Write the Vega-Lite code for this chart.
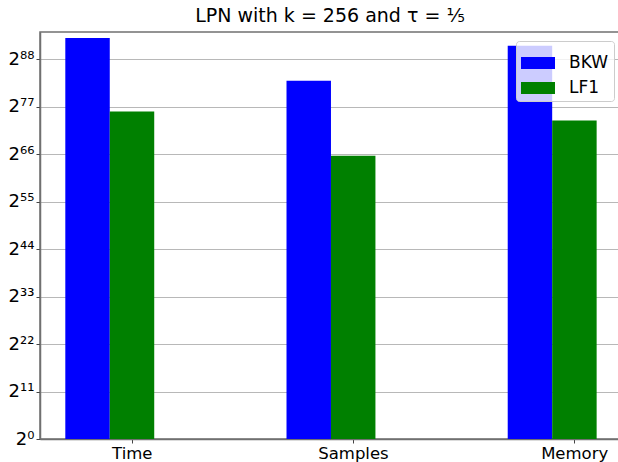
{
  "$schema": "https://vega.github.io/schema/vega-lite/v6.json",
  "autosize": "none",
  "width": 580,
  "height": 407,
  "padding": {"left": 40, "top": 32, "right": 0, "bottom": 23},
  "background": "white",
  "title": {
    "text": "LPN with k = 256 and τ = ⅕",
    "font": "DejaVu Sans",
    "fontSize": 19,
    "fontWeight": "normal",
    "color": "black",
    "offset": 6
  },
  "config": {
    "view": {"stroke": "#707070", "strokeWidth": 1.5},
    "font": "DejaVu Sans"
  },
  "data": {
    "values": [
      {"metric": "Time", "method": "BKW", "exp": 92.9},
      {"metric": "Time", "method": "LF1", "exp": 75.9},
      {"metric": "Samples", "method": "BKW", "exp": 83.0},
      {"metric": "Samples", "method": "LF1", "exp": 65.6},
      {"metric": "Memory", "method": "BKW", "exp": 91.1},
      {"metric": "Memory", "method": "LF1", "exp": 73.8}
    ]
  },
  "mark": {"type": "bar"},
  "encoding": {
    "x": {
      "field": "metric",
      "type": "nominal",
      "sort": ["Time", "Samples", "Memory"],
      "scale": {"paddingInner": 0.598, "paddingOuter": 0.11, "align": 0.52},
      "axis": {
        "title": null,
        "labelAngle": 0,
        "tickOffset": 22,
        "labelFontSize": 16.5,
        "labelColor": "black",
        "labelFont": "DejaVu Sans",
        "labelPadding": 2,
        "tickSize": 4,
        "tickColor": "#444",
        "domainColor": "#707070",
        "domainWidth": 1.5,
        "grid": false
      }
    },
    "xOffset": {
      "field": "method",
      "type": "nominal",
      "sort": ["BKW", "LF1"],
      "scale": {"paddingInner": 0, "paddingOuter": 0}
    },
    "y": {
      "field": "exp",
      "type": "quantitative",
      "scale": {"domain": [0, 94.3], "nice": false, "zero": true},
      "axis": {
        "title": null,
        "values": [0, 11, 22, 33, 44, 55, 66, 77, 88],
        "labelExpr": "datum.value == 0 ? '2⁰' : datum.value == 11 ? '2¹¹' : datum.value == 22 ? '2²²' : datum.value == 33 ? '2³³' : datum.value == 44 ? '2⁴⁴' : datum.value == 55 ? '2⁵⁵' : datum.value == 66 ? '2⁶⁶' : datum.value == 77 ? '2⁷⁷' : '2⁸⁸'",
        "labelFontSize": 18,
        "labelColor": "black",
        "labelFont": "DejaVu Sans",
        "labelPadding": 2,
        "tickSize": 4,
        "tickColor": "#444",
        "domainColor": "#707070",
        "domainWidth": 1.5,
        "grid": true,
        "gridColor": "#b8b8b8",
        "gridWidth": 1
      }
    },
    "color": {
      "field": "method",
      "type": "nominal",
      "scale": {"domain": ["BKW", "LF1"], "range": ["#0000ff", "#008000"]},
      "legend": {
        "title": null,
        "orient": "none",
        "legendX": 476,
        "legendY": 9,
        "symbolType": "M-1,-0.35H1V0.35H-1Z",
        "symbolSize": 1156,
        "symbolStrokeWidth": 0,
        "symbolOpacity": 1,
        "labelFontSize": 17,
        "labelFont": "DejaVu Sans",
        "labelColor": "black",
        "labelOffset": 14,
        "rowPadding": -11,
        "padding": 5,
        "fillColor": "rgba(255,255,255,0.8)",
        "strokeColor": "#cccccc",
        "cornerRadius": 3
      }
    }
  }
}
